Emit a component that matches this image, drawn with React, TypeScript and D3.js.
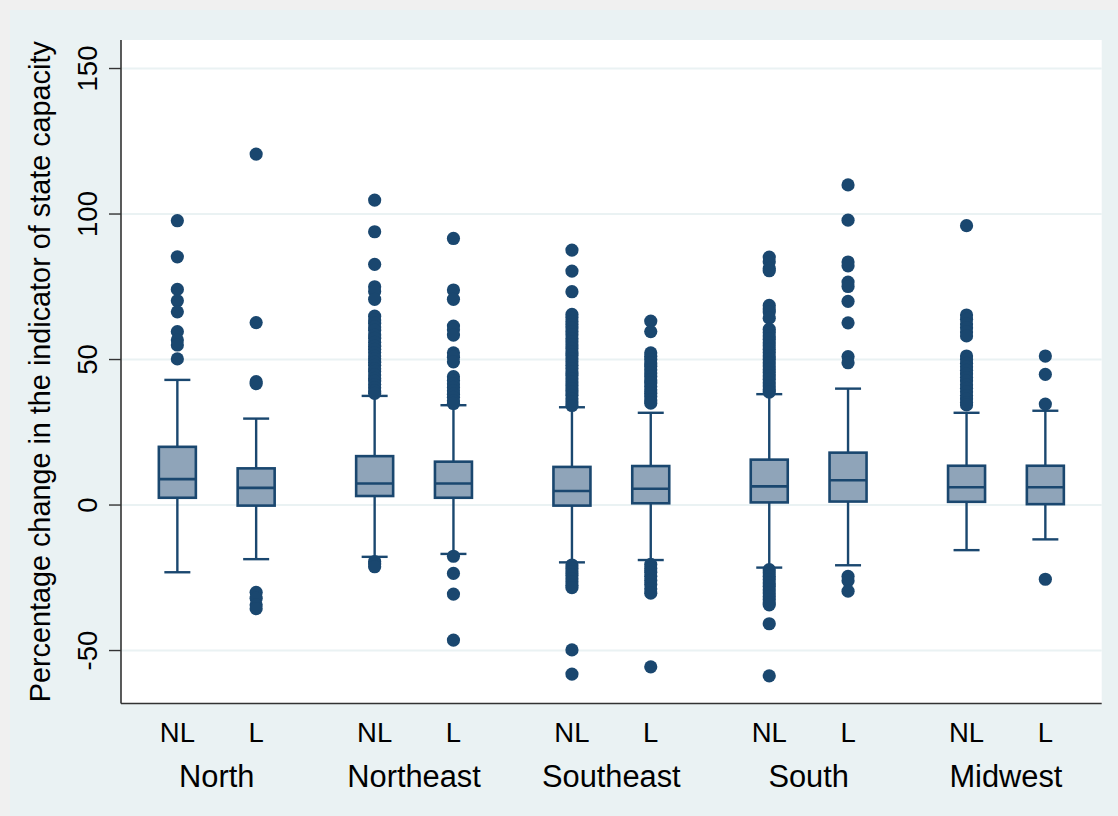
import React from "react";
import * as d3 from "d3";

const regions = ["North", "Northeast", "Southeast", "South", "Midwest"];
const groups = ["NL", "L"];
const yTicks = [-50, 0, 50, 100, 150];
const yTitle = "Percentage change in the indicator of state capacity";

// box stats per region: [NL, L] -> [lowerWhisker, q1, median, q3, upperWhisker]
const northBoxes = [[-23.1, 2.5, 8.9, 20.0, 43.0], [-18.6, -0.2, 5.9, 12.6, 29.7]];
const northeastBoxes = [[-17.8, 3.1, 7.4, 16.8, 37.5], [-16.8, 2.5, 7.4, 14.9, 34.3]];
const southeastBoxes = [[-19.7, -0.2, 4.8, 13.1, 33.6], [-18.9, 0.6, 5.6, 13.4, 31.7]];
const southBoxes = [[-21.5, 0.9, 6.4, 15.6, 38.1], [-20.7, 1.2, 8.5, 18.0, 40.0]];
const midwestBoxes = [[-15.5, 1.1, 6.1, 13.5, 31.7], [-11.8, 0.3, 6.1, 13.5, 32.4]];

// outliers
const northNL = [97.7, 85.3, 74.1, 70.2, 66.4, 59.6, 56.7, 55.0, 50.2];
const northL = [120.6, 62.7, 42.4, 41.7, -30.0, -32.0, -34.3, -35.6];
const northeastNL = [104.8, 93.9, 82.7, 75.0, 73.4, 70.7, 64.9, 63.6, 62.5, 61.2, 60.1, 58.4, 57.3, 55.9, 54.6, 53.5, 52.4, 51.2, 50.3, 49.1, 48.0, 46.8, 45.9, 44.7, 43.5, 42.6, 41.4, 40.3, 39.2, 38.4, -19.4, -20.3, -21.2];
const northeastL = [91.6, 73.9, 70.7, 61.5, 60.2, 58.4, 52.3, 50.8, 49.2, 44.1, 42.8, 41.6, 40.4, 39.3, 38.1, 37.0, 35.8, 34.9, -17.6, -23.5, -30.6, -46.4];
const southeastNL = [87.6, 80.4, 73.3, 65.5, 64.4, 63.1, 62.0, 60.8, 59.6, 58.5, 57.2, 56.1, 55.0, 53.8, 52.6, 51.5, 50.3, 49.2, 48.0, 46.9, 45.7, 44.6, 43.4, 42.3, 41.1, 40.0, 38.8, 37.7, 36.5, 35.4, 34.2, -20.6, -21.8, -22.9, -24.1, -25.3, -26.4, -27.6, -28.4, -49.8, -58.1];
const southeastL = [63.2, 59.6, 52.3, 51.1, 50.0, 48.8, 47.7, 46.5, 45.4, 44.2, 43.0, 41.9, 40.7, 39.6, 38.4, 37.3, 36.1, 35.0, -20.4, -21.8, -23.1, -24.5, -25.9, -27.3, -28.8, -30.3, -55.6];
const southNL = [85.2, 83.6, 81.3, 80.5, 68.6, 67.4, 66.3, 64.2, 60.4, 59.3, 58.1, 57.0, 55.8, 54.7, 53.5, 52.4, 51.2, 50.1, 48.9, 47.8, 46.6, 45.5, 44.3, 43.2, 42.0, 40.9, 39.7, 38.8, -22.2, -23.3, -24.5, -25.6, -26.8, -27.9, -29.1, -30.2, -31.4, -32.5, -33.6, -34.3, -40.8, -58.7];
const southL = [110.0, 97.9, 83.5, 82.2, 76.6, 75.1, 70.0, 62.6, 51.0, 48.9, -24.5, -26.0, -29.6];
const midwestNL = [96.0, 65.3, 63.8, 62.2, 60.9, 59.5, 58.1, 51.2, 50.0, 48.7, 47.5, 46.3, 45.0, 43.8, 42.6, 41.3, 40.1, 38.9, 37.6, 36.4, 35.2, 34.4];
const midwestL = [51.2, 44.9, 34.7, -25.5];

const boxesByRegion = [northBoxes, northeastBoxes, southeastBoxes, southBoxes, midwestBoxes];
const outliersByRegion = [
  [northNL, northL],
  [northeastNL, northeastL],
  [southeastNL, southeastL],
  [southNL, southL],
  [midwestNL, midwestL],
];

const W = 1118;
const H = 816;
const plotL = 121;
const plotR = 1101.7;
const plotT = 40;
const plotB = 703.5;

const navy = "#1a476f";
const boxFill = "#8fa4b9";
const font = "'Liberation Sans', Arial, Helvetica, sans-serif";

export default function App() {
  const x = d3.scalePoint<string>().domain(regions).range([plotL, plotR]).padding(0.4853);
  const sub = d3.scalePoint<string>().domain(groups).range([-39.4, 39.4]);
  const y = d3.scaleLinear().domain([-68.2, 159.8]).range([plotB, plotT]);
  const boxW = 37;
  const capW = 26;

  return (
    <svg width={W} height={H} style={{ position: "absolute", left: 0, top: 0, display: "block" }}>
      <rect x={0} y={0} width={W} height={H} fill="#f0f0f0" />
      <rect x={10} y={10} width={W - 10} height={H - 10} fill="#eaf2f3" />
      <rect x={plotL} y={plotT} width={plotR - plotL} height={plotB - plotT} fill="#ffffff" />
      {yTicks.map((t) => (
        <line key={"g" + t} x1={plotL} x2={plotR} y1={y(t)} y2={y(t)} stroke="#eaf2f3" strokeWidth={2} />
      ))}
      {regions.map((r, ri) =>
        groups.map((g, gi) => {
          const cx = (x(r) as number) + (sub(g) as number);
          const [lw, q1, md, q3, uw] = boxesByRegion[ri][gi];
          const outs = outliersByRegion[ri][gi];
          return (
            <g key={r + g}>
              <line x1={cx} x2={cx} y1={y(uw)} y2={y(q3)} stroke={navy} strokeWidth={2.4} />
              <line x1={cx} x2={cx} y1={y(q1)} y2={y(lw)} stroke={navy} strokeWidth={2.4} />
              <line x1={cx - capW / 2} x2={cx + capW / 2} y1={y(uw)} y2={y(uw)} stroke={navy} strokeWidth={2.4} />
              <line x1={cx - capW / 2} x2={cx + capW / 2} y1={y(lw)} y2={y(lw)} stroke={navy} strokeWidth={2.4} />
              <rect x={cx - boxW / 2} y={y(q3)} width={boxW} height={y(q1) - y(q3)} fill={boxFill} stroke={navy} strokeWidth={2.6} />
              <line x1={cx - boxW / 2} x2={cx + boxW / 2} y1={y(md)} y2={y(md)} stroke={navy} strokeWidth={2.6} />
              {outs.map((v, i) => (
                <circle key={i} cx={cx} cy={y(v)} r={6.6} fill={navy} />
              ))}
            </g>
          );
        })
      )}
      <line x1={plotL} x2={plotL} y1={plotT} y2={plotB} stroke="#333" strokeWidth={1.6} />
      <line x1={plotL} x2={plotR} y1={plotB} y2={plotB} stroke="#333" strokeWidth={1.6} />
      {yTicks.map((t) => (
        <g key={"t" + t}>
          <line x1={plotL - 12} x2={plotL} y1={y(t)} y2={y(t)} stroke="#333" strokeWidth={1.4} />
          <text
            transform={`translate(97,${y(t)}) rotate(-90)`}
            textAnchor="middle"
            fontFamily={font}
            fontSize={27.5}
            fill="#000"
          >
            {t < 0 ? "-" + Math.abs(t) : String(t)}
          </text>
        </g>
      ))}
      <text
        transform={`translate(50,${(plotT + plotB) / 2}) rotate(-90)`}
        textAnchor="middle"
        fontFamily={font}
        fontSize={28.8}
        fill="#000"
      >
        {yTitle}
      </text>
      {regions.map((r) => (
        <g key={"l" + r}>
          {groups.map((g) => (
            <text
              key={g}
              x={(x(r) as number) + (sub(g) as number)}
              y={741.7}
              textAnchor="middle"
              fontFamily={font}
              fontSize={27.5}
              fill="#000"
            >
              {g}
            </text>
          ))}
          <text x={x(r) as number} y={787} textAnchor="middle" fontFamily={font} fontSize={30.8} fill="#000">
            {r}
          </text>
        </g>
      ))}
    </svg>
  );
}
